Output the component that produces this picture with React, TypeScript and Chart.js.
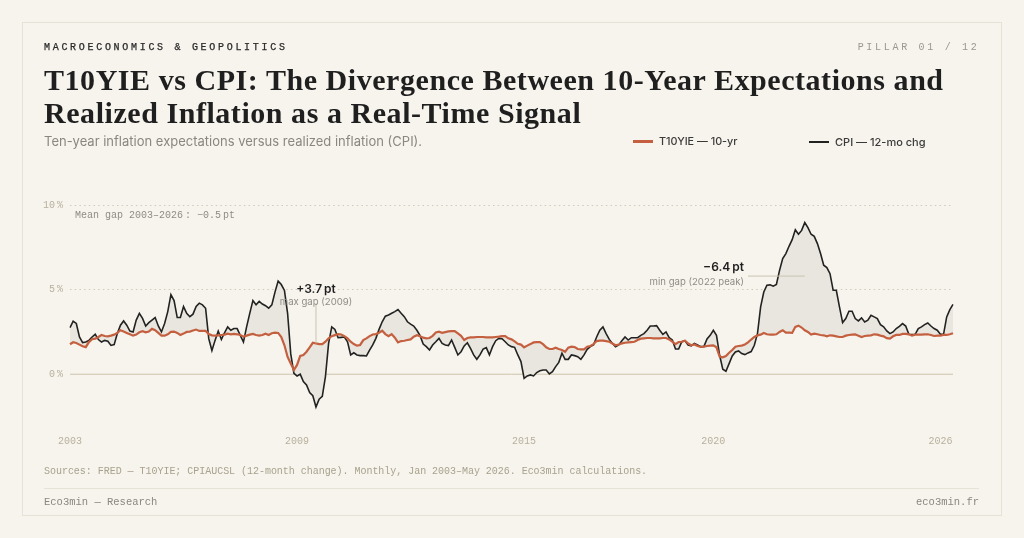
import React, { useEffect, useRef } from "react";
import { Chart, registerables } from "chart.js";

Chart.register(...registerables);

const startYear = 2003;
const tickYears = ["2003", "2009", "2015", "2020", "2026"];
const yTicks = [0, 5, 10];

const cpi = [
  2.76,3.13,3.0,2.2,1.87,1.9,2.0,2.2,2.36,2.05,1.9,2.0,
  1.95,1.7,1.75,2.4,2.9,3.15,2.9,2.55,2.5,3.2,3.6,3.3,
  2.85,3.05,3.2,3.35,2.85,2.5,3.0,3.7,4.7,4.35,3.35,3.35,
  4.0,3.6,3.4,3.55,4.0,4.2,4.1,3.9,2.1,1.4,2.0,2.55,
  2.05,2.45,2.8,2.6,2.7,2.7,2.3,1.9,2.8,3.6,4.35,4.1,
  4.3,4.15,4.05,3.9,4.1,4.85,5.5,5.3,4.95,3.6,1.2,0.05,
  -0.1,0.0,-0.43,-0.63,-1.08,-1.27,-1.94,-1.47,-1.31,-0.14,1.82,2.8,
  2.65,2.16,2.18,2.2,1.92,1.14,1.27,1.14,1.1,1.1,1.08,1.43,
  1.73,2.12,2.65,3.1,3.43,3.5,3.6,3.7,3.82,3.6,3.4,3.1,
  2.96,2.85,2.6,2.28,1.78,1.63,1.43,1.73,1.92,2.12,1.82,1.73,
  1.69,2.02,1.59,1.14,1.33,1.67,1.86,1.53,1.14,0.88,1.14,1.49,
  1.57,1.14,1.63,1.98,2.12,2.1,1.92,1.73,1.63,1.59,1.14,0.75,
  -0.24,-0.1,-0.04,-0.1,0.1,0.2,0.25,0.25,0.02,0.15,0.45,0.7,
  1.24,0.88,0.88,1.14,1.1,1.04,0.88,1.14,1.47,1.63,1.73,2.2,
  2.6,2.8,2.4,2.06,1.82,1.63,1.73,1.98,2.2,2.02,2.16,2.16,
  2.16,2.3,2.4,2.6,2.85,2.85,2.87,2.6,2.35,2.5,2.16,2.02,
  1.49,1.49,1.92,1.98,1.73,1.67,1.82,1.73,1.63,1.63,2.08,2.3,
  2.6,2.3,1.12,0.3,0.18,0.63,1.08,1.32,1.38,1.22,1.16,1.26,
  1.34,1.71,2.4,3.98,4.86,5.26,5.28,5.2,5.3,6.14,6.83,7.13,
  7.56,7.95,8.54,8.27,8.5,8.96,8.66,8.27,8.15,7.72,7.13,6.44,
  6.3,5.94,4.96,4.96,3.98,3.05,3.29,3.72,3.72,3.29,3.15,3.33,
  3.09,3.19,3.48,3.39,3.29,2.93,2.8,2.56,2.4,2.5,2.7,2.83,
  2.99,2.85,2.36,2.34,2.36,2.7,2.8,2.93,3.03,2.85,2.7,2.6,
  2.36,2.36,3.39,3.82,4.13,
];

const t10yie = [
  1.77,1.89,1.85,1.75,1.65,1.6,1.9,2.07,2.1,2.2,2.32,2.26,
  2.24,2.28,2.34,2.44,2.6,2.52,2.44,2.36,2.28,2.34,2.48,2.54,
  2.48,2.52,2.68,2.6,2.44,2.28,2.28,2.36,2.5,2.52,2.44,2.32,
  2.4,2.5,2.52,2.58,2.64,2.56,2.56,2.56,2.38,2.3,2.28,2.3,
  2.32,2.34,2.4,2.36,2.38,2.36,2.32,2.22,2.28,2.34,2.38,2.32,
  2.28,2.32,2.4,2.32,2.42,2.46,2.44,2.2,1.71,1.02,0.63,0.25,
  0.55,1.08,1.14,1.33,1.59,1.86,1.82,1.78,1.78,1.92,2.12,2.25,
  2.31,2.37,2.35,2.25,2.12,1.92,1.78,1.69,1.73,2.02,2.12,2.25,
  2.35,2.37,2.45,2.57,2.37,2.25,2.37,2.16,1.88,1.96,1.98,2.02,
  2.06,2.22,2.31,2.25,2.16,2.12,2.14,2.27,2.47,2.51,2.45,2.49,
  2.53,2.55,2.55,2.41,2.27,2.02,2.14,2.18,2.18,2.2,2.2,2.2,
  2.18,2.18,2.18,2.2,2.22,2.25,2.25,2.12,2.06,1.94,1.8,1.75,
  1.59,1.69,1.78,1.88,1.9,1.9,1.78,1.59,1.49,1.49,1.57,1.49,
  1.43,1.33,1.57,1.63,1.61,1.49,1.47,1.47,1.63,1.67,1.78,1.96,
  1.98,1.98,1.96,1.92,1.82,1.71,1.76,1.82,1.86,1.88,1.9,1.92,
  2.02,2.1,2.12,2.14,2.14,2.12,2.12,2.12,2.14,2.14,2.06,1.92,
  1.78,1.9,1.92,1.98,1.82,1.71,1.76,1.67,1.61,1.63,1.67,1.69,
  1.71,1.59,1.04,1.0,1.08,1.27,1.43,1.63,1.67,1.69,1.76,1.88,
  2.05,2.2,2.3,2.34,2.44,2.36,2.34,2.34,2.36,2.5,2.6,2.46,
  2.46,2.44,2.8,2.87,2.76,2.6,2.5,2.34,2.4,2.36,2.32,2.3,
  2.24,2.3,2.28,2.24,2.2,2.2,2.28,2.32,2.34,2.36,2.28,2.2,
  2.26,2.28,2.3,2.36,2.34,2.28,2.24,2.13,2.1,2.24,2.32,2.32,
  2.38,2.38,2.36,2.28,2.34,2.34,2.34,2.36,2.36,2.32,2.26,2.28,
  2.28,2.32,2.32,2.36,2.42,
];

const months = cpi.map((_, i) => {
  const y = startYear + Math.floor(i / 12);
  return `${y}-${String((i % 12) + 1).padStart(2, "0")}`;
});

const RED = "#c4603f";
const INK = "#222220";
const BG = "#f7f4ee";
const MONO = '"Liberation Mono", "DejaVu Sans Mono", monospace';
const SANS = 'Inter, "Noto Sans", sans-serif';
const SERIF = '"Liberation Serif", serif';

const annotationsPlugin = {
  id: "annotations",
  afterDatasetsDraw(chart: any) {
    const { ctx, scales } = chart;
    const x = scales.x;
    const y = scales.y;
    ctx.save();
    const mx = x.getPixelForValue(78);
    ctx.strokeStyle = "#c9c3b0";
    ctx.lineWidth = 1;
    ctx.beginPath();
    ctx.moveTo(mx, y.getPixelForValue(4.2));
    ctx.lineTo(mx, y.getPixelForValue(t10yie[78]));
    ctx.stroke();
    const gy = y.getPixelForValue(5.8);
    const gx = x.getPixelForValue(215);
    ctx.beginPath();
    ctx.moveTo(gx, gy);
    ctx.lineTo(x.getPixelForValue(233), gy);
    ctx.stroke();

    ctx.textBaseline = "middle";
    ctx.textAlign = "center";
    ctx.fillStyle = "#1f1f1f";
    ctx.font = `600 12px ${SANS}`;
    ctx.fillText("+3.7\u2009pt", mx, y.getPixelForValue(5.0));
    ctx.fillStyle = "#8f8c84";
    ctx.font = `400 9.6px ${SANS}`;
    ctx.fillText("max gap (2009)", mx, y.getPixelForValue(4.27));

    ctx.textAlign = "right";
    ctx.fillStyle = "#1f1f1f";
    ctx.font = `600 12px ${SANS}`;
    ctx.fillText("\u22126.4\u2009pt", gx - 4, y.getPixelForValue(6.3));
    ctx.fillStyle = "#8f8c84";
    ctx.font = `400 9.6px ${SANS}`;
    ctx.fillText("min gap (2022 peak)", gx - 4, y.getPixelForValue(5.47));

    ctx.textAlign = "left";
    ctx.fillStyle = "#8f8c84";
    ctx.font = `400 10px ${MONO}`;
    ctx.fillText("Mean gap 2003\u20132026\u2009: \u22120.5\u2009pt", x.getPixelForValue(1.6), y.getPixelForValue(9.4));
    ctx.restore();
  },
  beforeDatasetsDraw(chart: any) {
    const { ctx, scales, chartArea } = chart;
    const py = scales.y.getPixelForValue(0);
    ctx.save();
    ctx.strokeStyle = "#cdc4ac";
    ctx.lineWidth = 1;
    ctx.beginPath();
    ctx.moveTo(chartArea.left, py);
    ctx.lineTo(chartArea.right, py);
    ctx.stroke();
    ctx.restore();
  },
};

const abs = (style: React.CSSProperties): React.CSSProperties => ({
  position: "absolute",
  whiteSpace: "nowrap",
  margin: 0,
  ...style,
});

export default function App() {
  const ref = useRef<HTMLCanvasElement>(null);
  useEffect(() => {
    document.body.style.margin = "0";
    document.body.style.background = BG;
    const chart = new Chart(ref.current!, {
      type: "line",
      data: {
        labels: months,
        datasets: [
          {
            label: "T10YIE — 10-yr",
            data: t10yie,
            borderColor: RED,
            borderWidth: 2.2,
            pointRadius: 0,
            tension: 0,
            fill: false,
          },
          {
            label: "CPI — 12-mo chg",
            data: cpi,
            borderColor: INK,
            borderWidth: 1.6,
            pointRadius: 0,
            tension: 0,
            fill: { target: 0, above: "#e9e6df", below: "#e9e6df" },
          },
        ],
      },
      options: {
        animation: false,
        responsive: false,
        layout: { padding: { left: 0, right: 71, top: 205, bottom: 83 } },
        plugins: { legend: { display: false }, tooltip: { enabled: false } },
        scales: {
          x: {
            type: "category",
            offset: false,
            grid: { display: false },
            border: { display: false },
            afterFit: (s: any) => { s.height = 30; },
            afterBuildTicks: (s: any) => {
              s.ticks = s.ticks.filter((t: any) => {
                const m = months[t.value];
                return m.endsWith("-01") && tickYears.includes(m.slice(0, 4));
              });
            },
            ticks: {
              autoSkip: false,
              maxRotation: 0,
              padding: 2,
              color: "#b8b09c",
              font: { family: MONO, size: 10 },
              callback: (v: any) => months[v as number].slice(0, 4),
            },
          },
          y: {
            min: -3,
            max: 10,
            afterFit: (s: any) => { s.width = 70; },
            afterBuildTicks: (s: any) => {
              s.ticks = yTicks.map((value) => ({ value }));
            },
            border: { display: false, dash: [1.5, 3.2] },
            grid: {
              drawTicks: false,
              lineWidth: 1,
              color: (c: any) => (c.tick && c.tick.value === 0 ? "transparent" : "#cfcab9"),
            },
            ticks: {
              padding: 7,
              color: "#b8b09c",
              font: { family: MONO, size: 10 },
              callback: (v: any) => `${v}\u2009%`,
            },
          },
        },
      } as any,
      plugins: [annotationsPlugin],
    });
    return () => chart.destroy();
  }, []);

  return (
    <div style={{ position: "relative", width: 1024, height: 538, background: BG, overflow: "hidden" }}>
      <div style={abs({ left: 22, top: 22, width: 978, height: 492, border: "1.5px solid #e6e2d6" })} />
      <canvas ref={ref} width={1024} height={538} style={{ position: "absolute", left: 0, top: 0, width: 1024, height: 538 }} />
      <div style={abs({ left: 44, top: 42, fontFamily: MONO, fontSize: 10, fontWeight: 400, letterSpacing: 2.7, lineHeight: "12px", color: "#2a2a28", WebkitTextStroke: "0.25px #2a2a28" })}>
        MACROECONOMICS &amp; GEOPOLITICS
      </div>
      <div style={abs({ right: 44.5, top: 42, fontFamily: MONO, fontSize: 10, letterSpacing: 2.7, lineHeight: "12px", color: "#9a978f" })}>
        PILLAR 01 / 12
      </div>
      <h1 style={abs({ left: 44, top: 63, fontFamily: SERIF, fontSize: 30, fontWeight: 700, letterSpacing: 0.55, lineHeight: "33px", color: "#1f1f1f" })}>
        T10YIE vs CPI: The Divergence Between 10-Year Expectations and
        <br />
        Realized Inflation as a Real-Time Signal
      </h1>
      <div style={abs({ left: 44, top: 132, fontFamily: SANS, fontSize: 13, lineHeight: "18px", color: "#8a8780" })}>
        Ten-year inflation expectations versus realized inflation (CPI).
      </div>
      <div style={abs({ left: 633, top: 140, width: 20, height: 2.5, background: RED })} />
      <div style={abs({ left: 659, top: 135, fontFamily: SANS, fontSize: 10.8, fontWeight: 500, lineHeight: "14px", color: "#3a3a38" })}>
        T10YIE — 10-yr
      </div>
      <div style={abs({ left: 809, top: 140.5, width: 20, height: 2, background: INK })} />
      <div style={abs({ left: 835, top: 135, fontFamily: SANS, fontSize: 11, fontWeight: 500, lineHeight: "14px", color: "#3a3a38" })}>
        CPI — 12-mo chg
      </div>
      <div style={abs({ left: 44, top: 466, fontFamily: MONO, fontSize: 10, letterSpacing: -0.03, lineHeight: "12px", color: "#a8a28c" })}>
        Sources: FRED — T10YIE; CPIAUCSL (12-month change). Monthly, Jan 2003–May 2026. Eco3min calculations.
      </div>
      <div style={abs({ left: 44, top: 488, width: 935, height: 1, background: "#e6e2d6" })} />
      <div style={abs({ left: 44, top: 496, fontFamily: MONO, fontSize: 10.5, lineHeight: "12px", color: "#8a8780" })}>
        Eco3min — Research
      </div>
      <div style={abs({ right: 45, top: 496, fontFamily: MONO, fontSize: 10.5, lineHeight: "12px", color: "#8a8780" })}>
        eco3min.fr
      </div>
    </div>
  );
}
